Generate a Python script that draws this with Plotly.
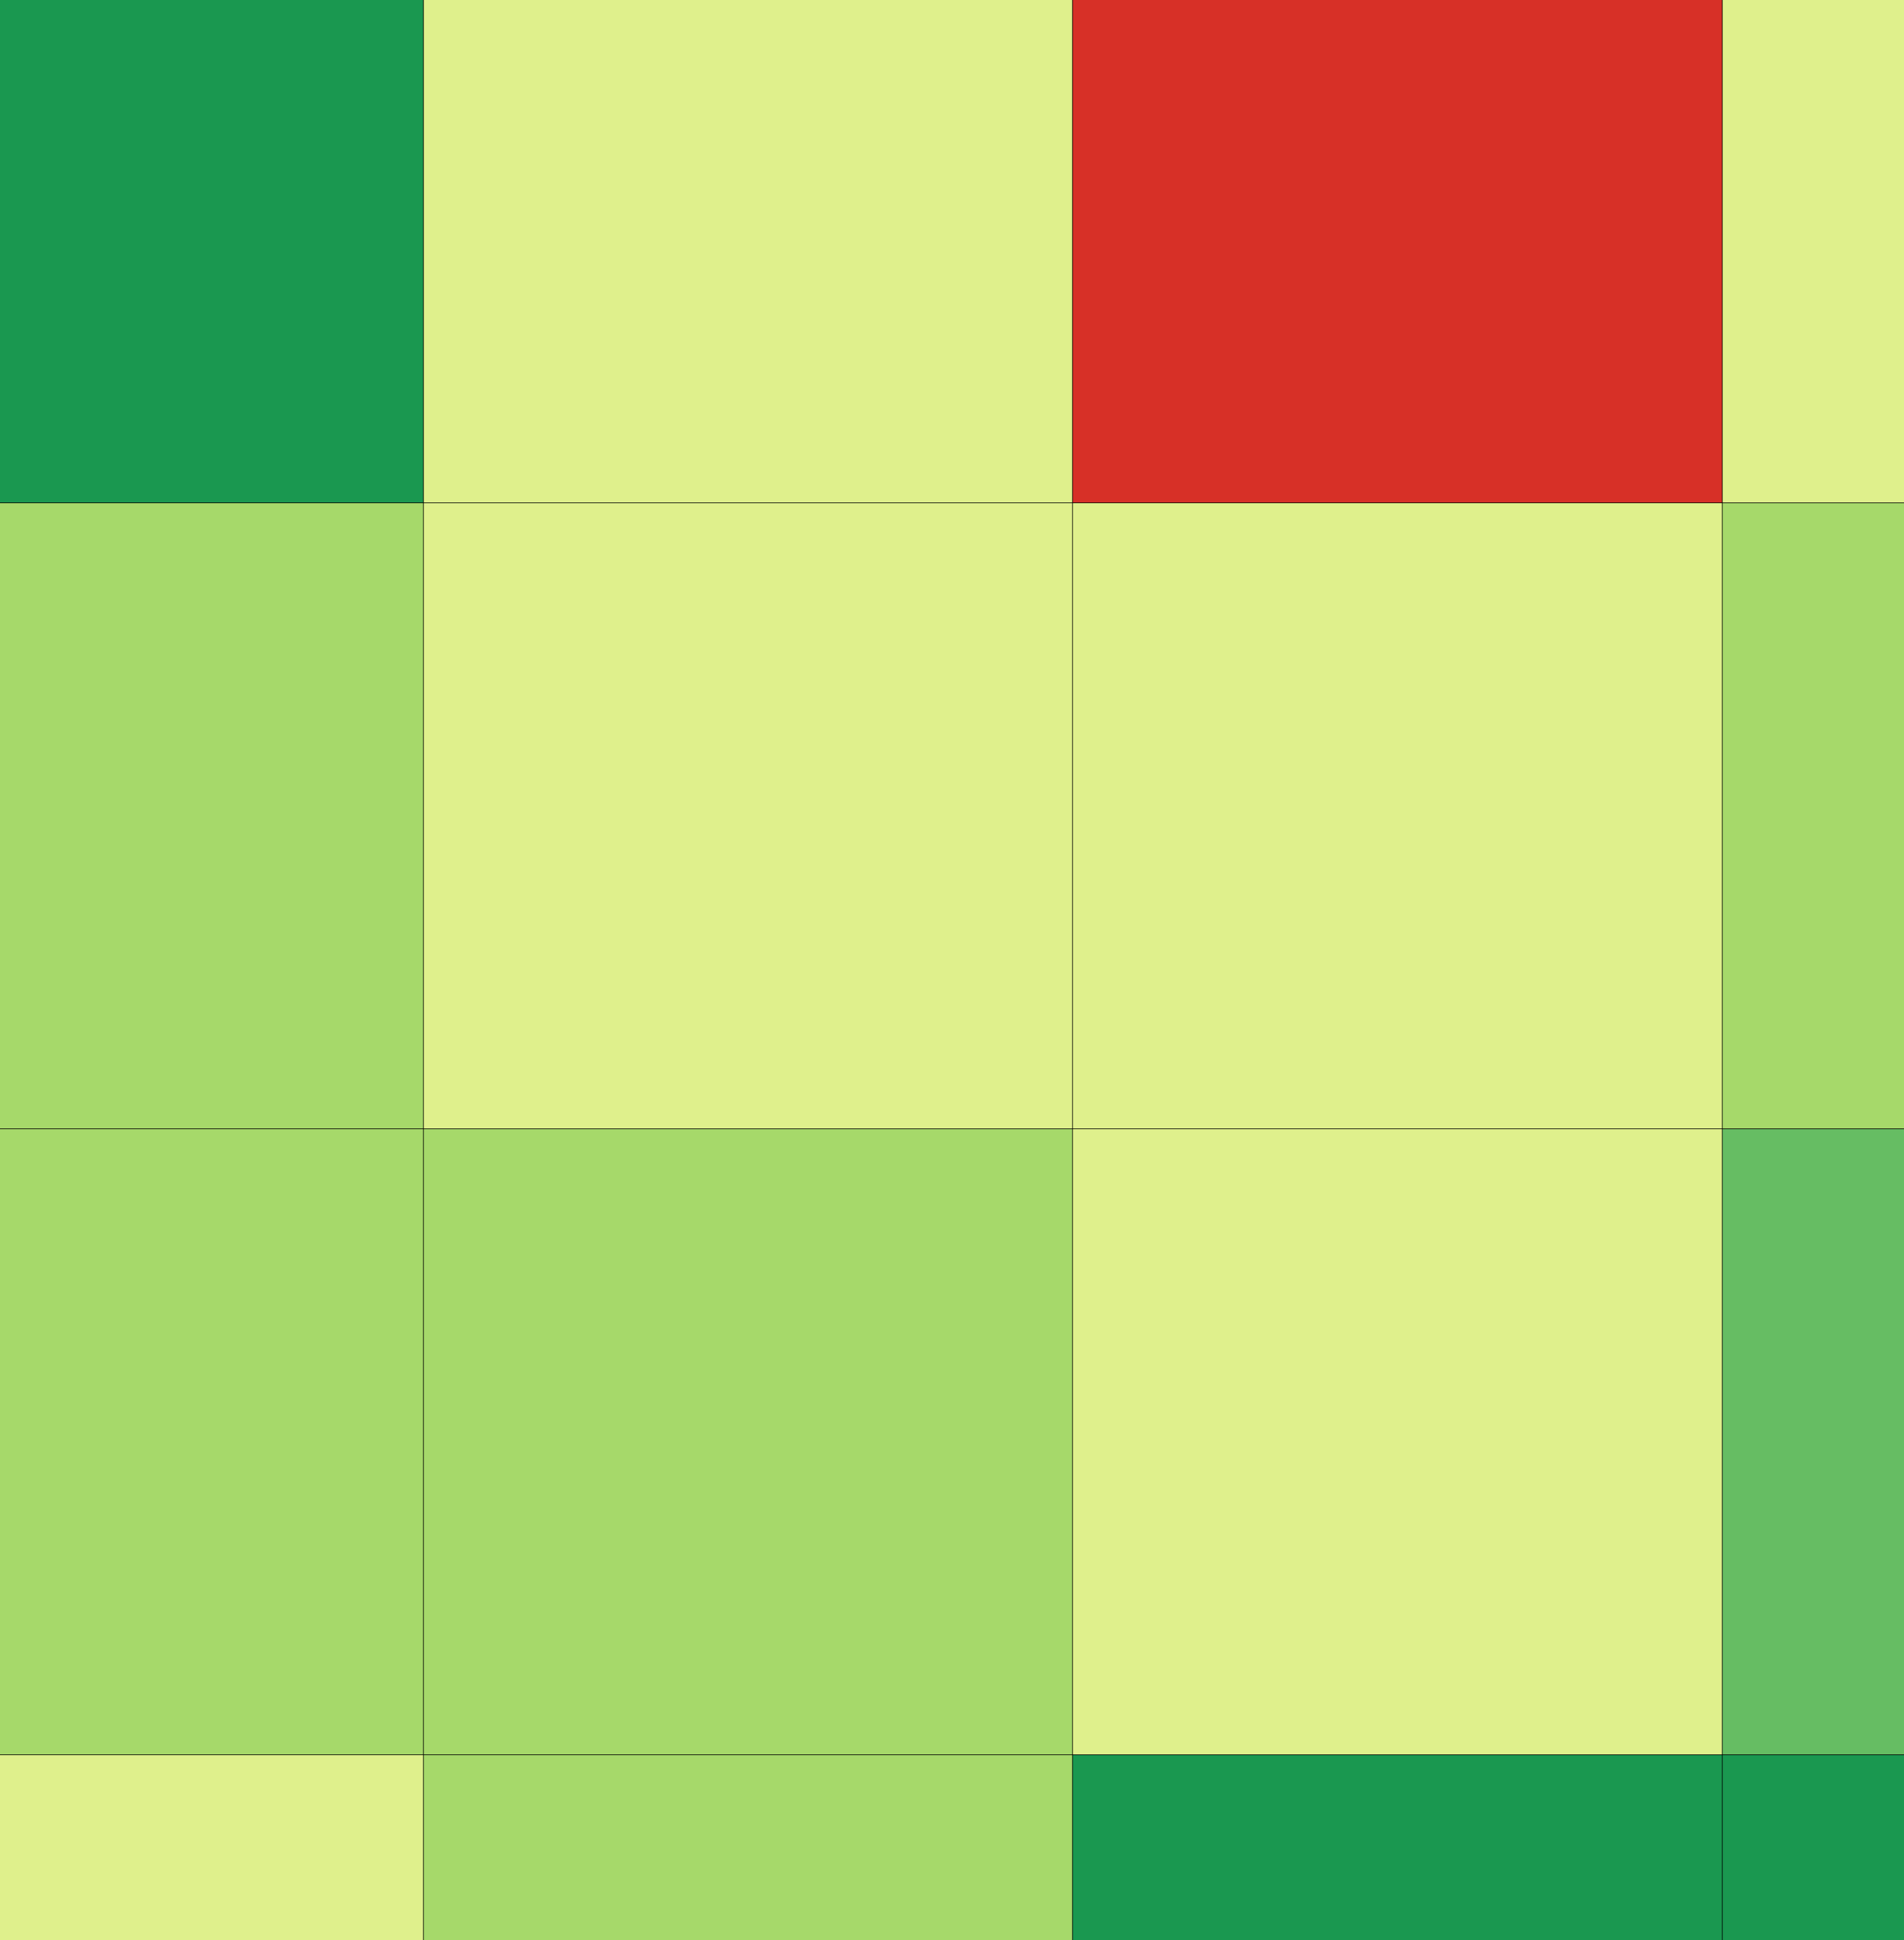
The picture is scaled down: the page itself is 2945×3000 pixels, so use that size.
import plotly.graph_objects as go

# Discrete RdYlGn levels (0 = worst, 8 = best)
level_colors = ["#d73027", "#f46d43", "#fdae61", "#fee08b", "#ffffbf",
                "#dff08c", "#a6d96a", "#66bd63", "#1a9850"]

rows = [0, 1, 2, 3]
cols = [0, 1, 2, 3]
z = [
    [8, 5, 0, 5],
    [6, 5, 5, 6],
    [6, 6, 5, 7],
    [5, 6, 8, 8],
]

n = len(level_colors)
colorscale = []
for i, c in enumerate(level_colors):
    colorscale.append([i / n, c])
    colorscale.append([(i + 1) / n, c])

fig = go.Figure(go.Heatmap(
    z=z, x=cols, y=rows,
    zmin=-0.5, zmax=n - 0.5,
    colorscale=colorscale,
    showscale=False,
    xgap=1, ygap=1,
    hoverinfo="skip",
))

fig.update_layout(
    width=2945, height=3000,
    margin=dict(l=0, r=0, t=0, b=0),
    plot_bgcolor="#000000",
    paper_bgcolor="#ffffff",
    xaxis=dict(range=[-0.152, 2.7797], visible=False, showgrid=False, zeroline=False),
    yaxis=dict(range=[2.7948, -0.3028], visible=False, showgrid=False, zeroline=False),
)

fig.write_html(
    "out.html",
    config={"displayModeBar": False},
    post_script="document.body.style.margin='0';document.body.style.padding='0';",
)
